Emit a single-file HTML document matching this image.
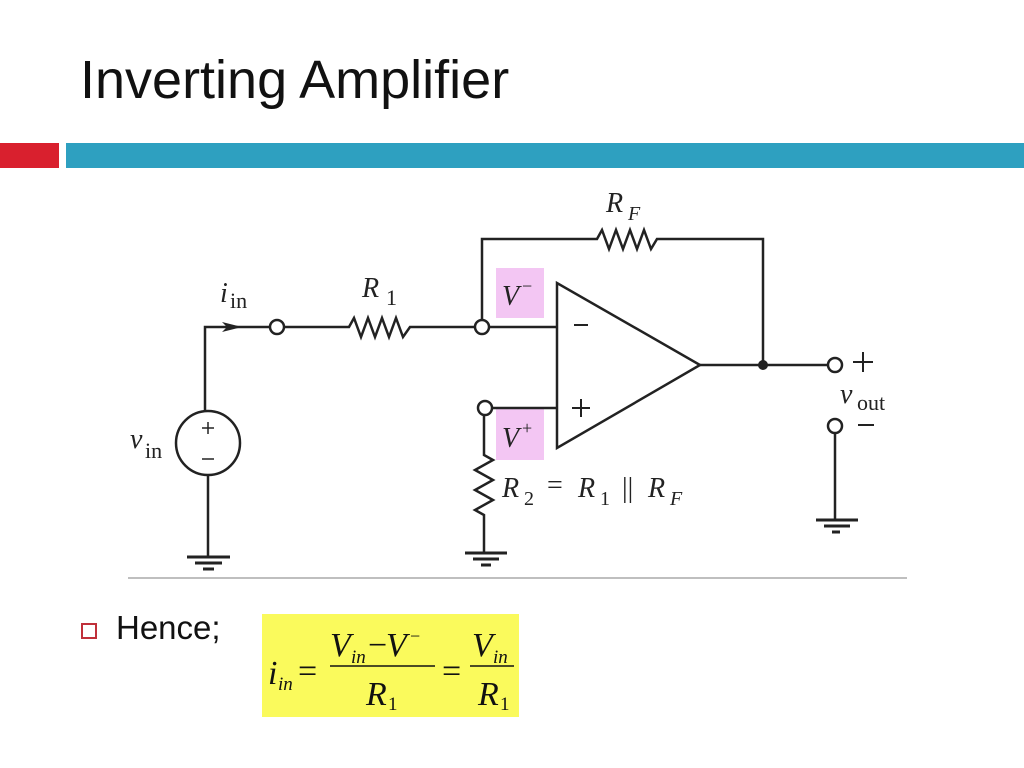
<!DOCTYPE html>
<html><head><meta charset="utf-8"><style>
body{margin:0;width:1024px;height:768px;background:#fff;overflow:hidden;position:relative;font-family:"Liberation Sans",sans-serif}
.t{position:absolute;left:80px;top:50px;font-size:54px;line-height:60px;color:#111}
.h{position:absolute;left:116px;top:609px;font-size:33px;color:#111}
.b{position:absolute;left:81px;top:623px;width:12px;height:12px;border:2px solid #c0303a}
</style></head><body>
<div style="position:absolute;left:0;top:143px;width:59px;height:25px;background:#d9202e"></div>
<div style="position:absolute;left:66px;top:143px;width:958px;height:25px;background:#2ea0c0"></div>
<div class="t">Inverting Amplifier</div>
<div class="b"></div><div class="h">Hence;</div>
<svg width="1024" height="768" style="position:absolute;left:0;top:0" font-family="Liberation Serif,serif">
<rect x="496" y="268" width="48" height="50" fill="#f3c6f3"/>
<rect x="496" y="409" width="48" height="51" fill="#f3c6f3"/>
<g stroke="#222" stroke-width="2.5" fill="none">
<polyline points="205,410 205,327 270,327"/>
<polyline points="284,327 349,327 354,318 361,337 368,318 375,337 382,318 389,337 396,318 403,337 410,327 475,327"/>
<line x1="489" y1="327" x2="557" y2="327"/>
<polyline points="482,320 482,239 597,239 602,230 609,249 616,230 623,249 630,230 637,249 644,230 651,249 657,239 763,239 763,365"/>
<polygon points="557,283 557,448 700,365"/>
<line x1="492" y1="408" x2="557" y2="408"/>
<polyline points="484,415 484,455 493,460 475,470 493,480 475,490 493,500 475,510 484,515 484,553"/>
<line x1="700" y1="365" x2="828" y2="365"/>
<line x1="835" y1="433" x2="835" y2="520"/>
<circle cx="208" cy="443" r="32"/>
<line x1="208" y1="475" x2="208" y2="557"/>
<circle cx="277" cy="327" r="7" fill="#fff"/>
<circle cx="482" cy="327" r="7" fill="#fff"/>
<circle cx="485" cy="408" r="7" fill="#fff"/>
<circle cx="835" cy="365" r="7" fill="#fff"/>
<circle cx="835" cy="426" r="7" fill="#fff"/>
<g stroke-width="3">
<line x1="187" y1="557" x2="230" y2="557"/><line x1="195" y1="563" x2="222" y2="563"/><line x1="203" y1="569" x2="214" y2="569"/>
<line x1="465" y1="553" x2="507" y2="553"/><line x1="473" y1="559" x2="499" y2="559"/><line x1="481" y1="565" x2="491" y2="565"/>
<line x1="816" y1="520" x2="858" y2="520"/><line x1="824" y1="526" x2="850" y2="526"/><line x1="832" y1="532" x2="840" y2="532"/>
</g>
<line x1="128" y1="578" x2="907" y2="578" stroke="#aaa" stroke-width="1.5"/>
<line x1="574" y1="325" x2="588" y2="325" stroke-width="2"/>
<line x1="572" y1="408" x2="590" y2="408" stroke-width="2"/><line x1="581" y1="399" x2="581" y2="417" stroke-width="2"/>
<line x1="853" y1="362" x2="873" y2="362" stroke-width="2"/><line x1="863" y1="352" x2="863" y2="372" stroke-width="2"/>
<line x1="858" y1="425" x2="874" y2="425" stroke-width="2"/>
<line x1="202" y1="428" x2="214" y2="428" stroke-width="1.5"/><line x1="208" y1="422" x2="208" y2="434" stroke-width="1.5"/>
<line x1="202" y1="459" x2="214" y2="459" stroke-width="1.5"/>
</g>
<polygon points="222,322 242,327 222,332 227,327" fill="#222"/>
<circle cx="763" cy="365" r="5" fill="#222"/>
<g fill="#222" font-size="28">
<text x="220" y="302" font-style="italic">i</text><text x="230" y="308" font-size="22">in</text>
<text x="362" y="297" font-style="italic">R</text><text x="386" y="305" font-size="22">1</text>
<text x="606" y="212" font-style="italic">R</text><text x="628" y="220" font-size="20" font-style="italic">F</text>
<text x="130" y="448" font-style="italic">v</text><text x="145" y="458" font-size="22">in</text>
<text x="840" y="403" font-style="italic">v</text><text x="857" y="410" font-size="22">out</text>
<text x="502" y="305" font-style="italic">V</text><text x="522" y="292" font-size="18">−</text>
<text x="502" y="447" font-style="italic">V</text><text x="522" y="434" font-size="18">+</text>
<text x="502" y="497" font-style="italic">R</text><text x="524" y="505" font-size="20">2</text>
<text x="547" y="494">=</text>
<text x="578" y="497" font-style="italic">R</text><text x="600" y="505" font-size="20">1</text>
<text x="622" y="497">||</text>
<text x="648" y="497" font-style="italic">R</text><text x="670" y="505" font-size="20" font-style="italic">F</text>
</g>
<rect x="262" y="614" width="257" height="103" fill="#fafa5c"/>
<g fill="#111" font-style="italic" font-size="34">
<text x="268" y="684">i</text><text x="278" y="690" font-size="19">in</text>
<text x="298" y="682" font-style="normal">=</text>
<text x="330" y="656">V</text><text x="351" y="663" font-size="19">in</text>
<text x="368" y="656" font-style="normal">−</text><text x="386" y="656">V</text><text x="410" y="642" font-size="18" font-style="normal">−</text>
<line x1="330" y1="666" x2="435" y2="666" stroke="#111" stroke-width="1.5"/>
<text x="366" y="705">R</text><text x="388" y="710" font-size="19" font-style="normal">1</text>
<text x="442" y="682" font-style="normal">=</text>
<text x="472" y="656">V</text><text x="493" y="663" font-size="19">in</text>
<line x1="470" y1="666" x2="514" y2="666" stroke="#111" stroke-width="1.5"/>
<text x="478" y="705">R</text><text x="500" y="710" font-size="19" font-style="normal">1</text>
</g>
</svg>
</body></html>
